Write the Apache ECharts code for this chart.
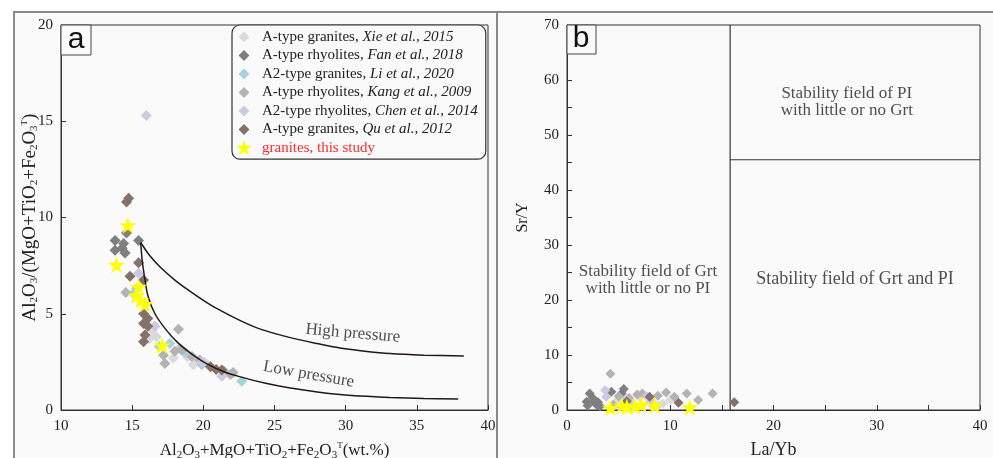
<!DOCTYPE html>
<html>
<head>
<meta charset="utf-8">
<script src="https://cdn.jsdelivr.net/npm/echarts@6.0.0/dist/echarts.min.js"></script>
<style>
  html, body { margin: 0; padding: 0; background: #fff; }
  #chart { width: 993px; height: 458px; }
</style>
</head>
<body>
<div id="chart"></div>
<script>
// ---- data, panel a: Al2O3+MgO+TiO2+Fe2O3T vs Al2O3/(MgO+TiO2+Fe2O3T)
const xieA = [[16.4, 4.15], [16.2, 3.7], [16.7, 3.8], [17.9, 2.7], [19.3, 2.35], [18.9, 2.75], [20.1, 2.5]]
const fanA = [[14.6, 9.2], [13.8, 8.8], [14.4, 8.65], [13.8, 8.3], [14.5, 8.15], [15.45, 8.8], [14.3, 8.4]]
const liA = [[15.1, 6.05], [15.3, 6.3], [17.65, 3.45], [18.35, 3.2], [18.7, 3.0], [19.9, 2.35], [21.5, 2.0], [22.7, 1.5], [16.9, 3.3]]
const kangA = [[14.55, 6.1], [18.25, 4.2], [17.2, 2.85], [17.3, 2.42], [18.0, 3.05], [19.2, 2.78], [19.75, 2.6], [21.9, 1.85], [22.1, 1.95], [18.5, 3.1]]
const chenA = [[16.0, 15.3], [15.45, 7.1], [16.6, 4.35], [21.3, 1.75], [19.9, 2.5]]
const quA = [[14.6, 10.8], [14.75, 11.0], [15.45, 7.65], [14.85, 6.95], [15.8, 6.75], [15.8, 5.0], [16.1, 4.75], [15.8, 4.5], [16.1, 4.35], [15.9, 3.9], [15.8, 3.55], [20.5, 2.25], [20.9, 2.1], [21.3, 2.08]]
const starA = [[13.9, 7.55], [14.7, 9.6], [15.45, 6.4], [15.3, 5.95], [15.6, 5.7], [15.9, 5.5], [17.1, 3.35]]

const highCurve = [[15.6, 8.7], [16.2, 8.05], [17, 7.4], [18, 6.75], [19, 6.2], [20, 5.7], [21, 5.25], [22.6, 4.64], [24, 4.2], [26.1, 3.76], [28, 3.45], [29.6, 3.22], [31.5, 3.04], [33.1, 2.93], [35.5, 2.85], [38.3, 2.8]]
const lowCurve = [[15.6, 8.7], [15.7, 7.8], [15.85, 7.0], [16.1, 5.95], [16.6, 5.0], [17.4, 4.15], [18.2, 3.5], [19.1, 2.96], [20.2, 2.42], [21.4, 2.0], [22.6, 1.72], [24.3, 1.4], [26.1, 1.14], [28, 0.94], [29.6, 0.81], [31.5, 0.71], [33.1, 0.65], [35.5, 0.6], [37.9, 0.57]]

// ---- data, panel b: La/Yb vs Sr/Y
const xieB = [[5.0, 2.0], [6.2, 1.6], [7.0, 2.4], [8.0, 1.3], [9.3, 1.2], [10.0, 1.8], [6.5, 0.9], [8.8, 0.8]]
const fanB = [[1.9, 1.5], [2.2, 3.0], [2.6, 1.5], [2.0, 0.8], [2.9, 0.9], [2.5, 2.2], [3.0, 1.4], [4.3, 3.3], [5.3, 3.0], [5.5, 3.8], [3.2, 0.7]]
const liB = [[5.4, 0.6], [6.2, 0.5], [7.2, 0.7], [8.5, 0.6], [4.5, 0.6]]
const kangB = [[4.2, 6.6], [5.0, 2.5], [6.0, 2.2], [6.8, 2.8], [7.3, 3.0], [8.8, 2.6], [9.6, 3.2], [10.4, 2.4], [11.6, 3.0], [12.7, 1.8], [14.1, 3.0], [4.5, 1.0]]
const chenB = [[3.7, 3.6], [3.8, 2.4], [5.7, 2.0], [7.7, 2.5], [8.2, 1.5]]
const quB = [[8.0, 2.4], [10.8, 1.3], [16.2, 1.4], [5.8, 1.6]]
const starB = [[4.2, 0.4], [5.3, 0.8], [5.8, 0.6], [6.6, 0.7], [7.2, 1.0], [8.5, 0.8], [11.9, 0.5]]

const vBoundary = [[15.8, 0], [15.8, 70]]
const hBoundary = [[15.8, 45.5], [40, 45.5]]

const names = [
  'A-type granites, Xie et al., 2015',
  'A-type rhyolites, Fan et al., 2018',
  'A2-type granites, Li et al., 2020',
  'A-type rhyolites, Kang et al., 2009',
  'A2-type rhyolites, Chen et al., 2014',
  'A-type granites, Qu et al., 2012',
  'granites, this study',
]
const colors = ['#dadada', '#7f7f7f', '#a8d2db', '#b3b3b3', '#cdc8e3', '#86706a', '#ffff00']

const serif = '"Liberation Serif", "DejaVu Serif", serif'
const starPath = 'path://M50,0 L61.2,34.5 L97.6,34.5 L68.2,55.9 L79.4,90.5 L50,69.1 L20.6,90.5 L31.8,55.9 L2.4,34.5 L38.8,34.5 Z'
const legendDiamond = 'path://M0,0 M100,100 M50,16 L84,50 L50,84 L16,50 Z'

const sub = { fontSize: 11, lineHeight: 10, verticalAlign: 'bottom', fontFamily: serif, color: '#222' }
const sup = { fontSize: 9, lineHeight: 10, verticalAlign: 'top', fontFamily: serif, color: '#222' }
const nameStyle = size => ({ fontFamily: serif, fontSize: size, color: '#222', rich: { sub, sup, m: { fontSize: size, lineHeight: 20, fontFamily: serif, color: '#222' } } })

const scatterSet = (sets, xi, yi, size) => sets.map((d, i) => ({
  name: names[i],
  type: 'scatter',
  xAxisIndex: xi,
  yAxisIndex: yi,
  data: d,
  symbol: i === 6 ? starPath : 'diamond',
  symbolSize: i === 6 ? 17 : size,
  itemStyle: { color: colors[i], opacity: 1 },
  z: i === 6 ? 6 : 3,
}))

const tenOnly = v => (v % 10 === 0 ? v : '')

const axisCommon = {
  type: 'value',
  nameMoveOverlap: false,
  splitLine: { show: false },
  axisLine: { onZero: false, lineStyle: { color: '#333', width: 1 } },
  axisTick: { inside: true, length: 5, lineStyle: { color: '#333' } },
  axisLabel: { fontFamily: serif, fontSize: 15, color: '#222', margin: 8 },
}
const xLabel = { ...axisCommon.axisLabel, margin: 9 }

const chart = echarts.init(document.getElementById('chart'))

chart.setOption({
  backgroundColor: '#ffffff',
  animation: false,
  graphic: [
    { type: 'rect', z: -10, shape: { x: 14, y: 12, width: 483, height: 460 }, style: { fill: '#fafafa', stroke: '#8a8a8a', lineWidth: 2 } },
    { type: 'rect', z: -10, shape: { x: 497, y: 12, width: 500, height: 460 }, style: { fill: '#fafafa', stroke: '#8a8a8a', lineWidth: 2 } },
    { type: 'rect', z: 10, shape: { x: 61, y: 25, width: 30, height: 30 }, style: { fill: '#fafafa', stroke: '#444', lineWidth: 1 } },
    { type: 'text', z: 11, x: 76, y: 40, style: { text: 'a', fontSize: 30, fontFamily: '"Liberation Sans", Arial, sans-serif', fill: '#111', align: 'center', verticalAlign: 'middle' } },
    { type: 'rect', z: 10, shape: { x: 567, y: 25, width: 29, height: 29 }, style: { fill: '#fafafa', stroke: '#444', lineWidth: 1 } },
    { type: 'text', z: 11, x: 581, y: 39, style: { text: 'b', fontSize: 30, fontFamily: '"Liberation Sans", Arial, sans-serif', fill: '#111', align: 'center', verticalAlign: 'middle' } },
  ],
  legend: {
    orient: 'vertical',
    left: 232,
    top: 25,
    padding: [4, 8, 4, 4],
    itemWidth: 16,
    itemHeight: 16,
    itemGap: 2.5,
    borderColor: '#333',
    borderWidth: 1.2,
    borderRadius: 8,
    backgroundColor: '#fafafa',
    data: names.map((n, i) => ({ name: n, icon: i === 6 ? starPath : legendDiamond })),
    formatter: name => {
      if (name === names[6]) return '{r|' + name + '}'
      const k = name.indexOf(', ')
      return '{n|' + name.slice(0, k + 2) + '}{i|' + name.slice(k + 2) + '}'
    },
    textStyle: {
      rich: {
        n: { fontFamily: serif, fontSize: 15, lineHeight: 16, color: '#222', padding: [0, 0, 0, 5] },
        i: { fontFamily: serif, fontSize: 15, lineHeight: 16, color: '#222', fontStyle: 'italic' },
        r: { fontFamily: serif, fontSize: 15, lineHeight: 16, color: '#ff2a2a', padding: [0, 0, 0, 5] },
      },
    },
  },
  grid: [
    { left: 61, top: 25, width: 427, height: 385, outerBoundsMode: 'none', show: true, borderColor: '#333', borderWidth: 1, backgroundColor: 'transparent' },
    { left: 567, top: 25, width: 413, height: 385, outerBoundsMode: 'none', show: true, borderColor: '#333', borderWidth: 1, backgroundColor: 'transparent' },
  ],
  xAxis: [
    {
      ...axisCommon, gridIndex: 0, min: 10, max: 40, interval: 5, axisLabel: xLabel,
      name: '{m|Al}{sub|2}{m|O}{sub|3}{m|+MgO+TiO}{sub|2}{m|+Fe}{sub|2}{m|O}{sub|3}{sup|T}{m|(wt.%)}',
      nameLocation: 'middle', nameGap: 31, nameTextStyle: nameStyle(17),
    },
    {
      ...axisCommon, gridIndex: 1, min: 0, max: 40, interval: 5,
      axisLabel: { ...xLabel, formatter: tenOnly },
      name: 'La/Yb', nameLocation: 'middle', nameGap: 31,
      nameTextStyle: { fontFamily: serif, fontSize: 18, color: '#222' },
    },
  ],
  yAxis: [
    {
      ...axisCommon, gridIndex: 0, min: 0, max: 20, interval: 5,
      name: '{m|Al}{sub|2}{m|O}{sub|3}{m|/(MgO+TiO}{sub|2}{m|+Fe}{sub|2}{m|O}{sub|3}{sup|T}{m|)}',
      nameLocation: 'middle', nameGap: 21, nameRotate: 90, nameTextStyle: nameStyle(19),
    },
    {
      ...axisCommon, gridIndex: 1, min: 0, max: 70, interval: 5,
      axisLabel: { ...axisCommon.axisLabel, formatter: tenOnly },
      name: 'Sr/Y', nameLocation: 'middle', nameGap: 36, nameRotate: 90,
      nameTextStyle: { fontFamily: serif, fontSize: 16, color: '#222' },
    },
  ],
  series: [
    {
      type: 'line', xAxisIndex: 0, yAxisIndex: 0, data: highCurve, showSymbol: false, silent: true,
      smooth: 0.3, lineStyle: { color: '#231815', width: 1.5 }, z: 4,
    },
    {
      type: 'line', xAxisIndex: 0, yAxisIndex: 0, data: lowCurve, showSymbol: false, silent: true,
      smooth: 0.3, lineStyle: { color: '#231815', width: 1.5 }, z: 4,
    },
    ...scatterSet([xieA, fanA, liA, kangA, chenA, quA, starA], 0, 0, 11),
    ...scatterSet([xieB, fanB, liB, kangB, chenB, quB, starB], 1, 1, 10),
    {
      type: 'line', xAxisIndex: 1, yAxisIndex: 1, data: vBoundary, showSymbol: false, silent: true,
      lineStyle: { color: '#333', width: 1.2 }, z: 2,
    },
    {
      type: 'line', xAxisIndex: 1, yAxisIndex: 1, data: hBoundary, showSymbol: false, silent: true,
      lineStyle: { color: '#333', width: 1.2 }, z: 2,
    },
    {
      type: 'scatter', xAxisIndex: 0, yAxisIndex: 0, symbolSize: 0, silent: true, z: 5,
      label: { show: true, position: 'inside', formatter: p => p.name, fontFamily: serif, fontSize: 17, color: '#222' },
      data: [
        { name: 'High pressure', value: [30.5, 3.98], label: { rotate: -5 } },
        { name: 'Low pressure', value: [27.4, 1.85], label: { rotate: -10 } },
      ],
    },
    {
      type: 'scatter', xAxisIndex: 1, yAxisIndex: 1, symbolSize: 0, silent: true, z: 5,
      label: { show: true, position: 'inside', formatter: p => p.name, fontFamily: serif, fontSize: 17, color: '#222', lineHeight: 17, align: 'center' },
      data: [
        { name: 'Stability field of PI\nwith little or no Grt', value: [27.1, 56.0] },
        { name: 'Stability field of Grt\nwith little or no PI', value: [7.84, 23.6] },
        { name: 'Stability field of Grt and PI', value: [27.9, 23.8], label: { fontSize: 18 } },
      ],
    },
  ],
})
</script>
</body>
</html>
